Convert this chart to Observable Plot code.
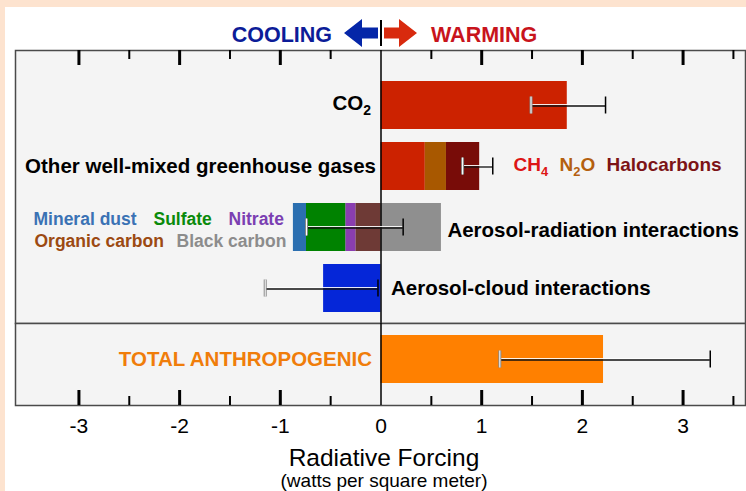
<!DOCTYPE html>
<html><head><meta charset="utf-8">
<script src="https://cdn.jsdelivr.net/npm/d3@7"></script>
<script src="https://cdn.jsdelivr.net/npm/@observablehq/plot@0.6"></script>
<style>
html,body{margin:0;padding:0;}
body{width:746px;height:491px;background:#fde3cf;position:relative;overflow:hidden;font-family:"Liberation Sans",Arial,sans-serif;}
#panel{position:absolute;left:5px;top:7px;right:0;bottom:0;background:#fff;}
.abs{position:absolute;}
</style></head><body>
<div id="panel"></div>
<svg class="abs" style="left:0;top:0" width="746" height="50" font-family="Liberation Sans, Arial, sans-serif" font-weight="bold" font-size="21.5">
  <text x="332" y="41.7" text-anchor="end" fill="#0c1c98">COOLING</text>
  <polygon fill="#0526a8" points="344,33 362,19 362,27.5 378,27.5 378,38.5 362,38.5 362,47"/>
  <line x1="381" x2="381" y1="20" y2="46" stroke="#000" stroke-width="2"/>
  <polygon fill="#d82a0e" points="417,33 399,19 399,27.5 384,27.5 384,38.5 399,38.5 399,47"/>
  <text x="431" y="41.7" fill="#c8141c">WARMING</text>
</svg>
<div id="topPlot" class="abs" style="left:0;top:49px"></div>
<div id="bottomPlot" class="abs" style="left:0;top:322px"></div>
<svg class="abs" style="left:0;top:440px" width="746" height="51" font-family="Liberation Sans, Arial, sans-serif">
  <text x="384" y="26" text-anchor="middle" font-size="24.5" fill="#000">Radiative Forcing</text>
  <text x="384" y="46.5" text-anchor="middle" font-size="19" fill="#000">(watts per square meter)</text>
</svg>
<script>
const FONT = "Liberation Sans, Arial, sans-serif";

// ---- data ----
const rows = ["CO2", "Other well-mixed greenhouse gases", "Aerosol-radiation interactions", "Aerosol-cloud interactions"];
const totalRow = ["TOTAL ANTHROPOGENIC"];

const segRow = ["CO2",
  "Other well-mixed greenhouse gases", "Other well-mixed greenhouse gases", "Other well-mixed greenhouse gases",
  "Aerosol-radiation interactions", "Aerosol-radiation interactions", "Aerosol-radiation interactions",
  "Aerosol-radiation interactions", "Aerosol-radiation interactions",
  "Aerosol-cloud interactions"];
const segName = ["CO2", "CH4", "N2O", "Halocarbons", "Black carbon", "Organic carbon", "Nitrate", "Sulfate", "Mineral dust", "Aerosol-cloud"];
const segValue = [1.85, 0.44, 0.21, 0.33, 0.60, -0.25, -0.10, -0.39, -0.13, -0.57];
const segColor = ["#cc2200", "#cc2200", "#a85800", "#780c08", "#8f8f8f", "#6e3a36", "#8a3eb0", "#008200", "#2b6fb0", "#0526d8"];

const totalValue = [2.21];
const totalColor = ["#ff8000"];

const errRow = ["CO2", "Other well-mixed greenhouse gases", "Aerosol-radiation interactions", "Aerosol-cloud interactions"];
const errLow = [1.49, 0.81, -0.74, -1.15];
const errHigh = [2.23, 1.11, 0.22, -0.03];
const totalErrLow = [1.18];
const totalErrHigh = [3.27];

const gasNames = ["CH4", "N2O", "Halocarbons"];
const gasColors = ["#dd1515", "#b4600e", "#7d1316"];
const aerosolLine1 = ["Mineral dust", "Sulfate", "Nitrate"];
const aerosolLine1Colors = ["#3a72b4", "#0a8a0a", "#7b3fb2"];
const aerosolLine2 = ["Organic carbon", "Black carbon"];
const aerosolLine2Colors = ["#9c4a12", "#8c8c8c"];

const majorTicks = [-3, -2, -1, 1, 2, 3];
const minorTicks = [-2.5, -1.5, -0.5, 0.5, 1.5, 2.5, 3.5];
const tickLabels = [-3, -2, -1, 0, 1, 2, 3];
const xDomain = [-3.63, 3.62];

// ---- tables ----
const segs = segRow.map((r, i) => ({row: r, name: segName[i], value: segValue[i], color: segColor[i]}));
const errs = errRow.map((r, i) => ({row: r, lo: errLow[i], hi: errHigh[i]}));
const totals = totalRow.map((r, i) => ({row: r, value: totalValue[i], color: totalColor[i]}));
const totalErrs = totalRow.map((r, i) => ({row: r, lo: totalErrLow[i], hi: totalErrHigh[i]}));
const bcEnd = d3.sum(segs.filter(d => d.row === rows[2] && d.value > 0), d => d.value);

function errorMarks(data) {
  return [
    Plot.ruleY(data, {y: "row", x1: "lo", x2: "hi", stroke: "#111", strokeWidth: 1.3, dy: 0.5}),
    Plot.ruleY(data, {y: "row", x1: "lo", x2: "hi", stroke: "#fff", strokeWidth: 1, dy: -1, strokeOpacity: 0.9}),
    Plot.tickX(data, {y: "row", x: "lo", stroke: "#888", strokeWidth: 3, insetTop: 15.5, insetBottom: 15.5}),
    Plot.tickX(data, {y: "row", x: "lo", stroke: "#fff", strokeWidth: 1, insetTop: 15.5, insetBottom: 15.5}),
    Plot.tickX(data, {y: "row", x: "hi", stroke: "#000", strokeWidth: 1.5, insetTop: 15.5, insetBottom: 15.5})
  ];
}

const labelStyle = {fontWeight: "bold", fontSize: 20.5, fill: "#000"};

const topPlot = Plot.plot({
  width: 746, height: 275,
  marginLeft: 15, marginRight: 1, marginTop: 1, marginBottom: 1,
  style: {background: "transparent", fontFamily: FONT, overflow: "visible"},
  x: {domain: xDomain, axis: null},
  y: {domain: rows, axis: null, paddingInner: 0.213, paddingOuter: 0.344, align: 0.738},
  color: {type: "identity"},
  marks: [
    Plot.frame({fill: "#f4f4f4", stroke: "#4a4a4a", strokeWidth: 1.5}),
    Plot.ruleX(majorTicks, {x: d => d, insetBottom: 273 - 15, stroke: "#000", strokeWidth: 3}),
    Plot.ruleX(minorTicks, {x: d => d, insetBottom: 273 - 9, stroke: "#000", strokeWidth: 2}),
    Plot.barX(segs, {x: "value", y: "row", fill: "color"}),
    Plot.ruleX([0], {stroke: "#000", strokeWidth: 1.5}),
    ...errorMarks(errs),
    Plot.text([rows[0]], {x: () => 0, y: d => d, text: d => d, textAnchor: "end", dx: -10, dy: -2, ...labelStyle}),
    Plot.text([rows[1]], {x: () => 0, y: d => d, text: d => d, textAnchor: "end", dx: -5, ...labelStyle}),
    Plot.text([rows[2]], {x: () => bcEnd, y: d => d, text: d => d, textAnchor: "start", dx: 6, dy: 3, ...labelStyle}),
    Plot.text([rows[3]], {x: () => 0, y: d => d, text: d => d, textAnchor: "start", dx: 10, ...labelStyle}),
    ...gasNames.map((g, i) => Plot.text([g], {frameAnchor: "left", y: () => rows[1], text: d => d, textAnchor: "start",
      dx: [498, 544, 591][i], dy: -2, fill: gasColors[i], fontWeight: "bold", fontSize: 19})),
    ...aerosolLine1.map((g, i) => Plot.text([g], {frameAnchor: "left", y: () => rows[2], text: d => d, textAnchor: "start",
      dx: [18, 138, 213][i], dy: -8, fill: aerosolLine1Colors[i], fontWeight: "bold", fontSize: 17.5})),
    ...aerosolLine2.map((g, i) => Plot.text([g], {frameAnchor: "left", y: () => rows[2], text: d => d, textAnchor: "start",
      dx: [19, 161][i], dy: 14, fill: aerosolLine2Colors[i], fontWeight: "bold", fontSize: 17.5}))
  ]
});

const bottomPlot = Plot.plot({
  width: 746, height: 123,
  marginLeft: 15, marginRight: 1, marginTop: 1, marginBottom: 40,
  style: {background: "transparent", fontFamily: FONT, overflow: "visible"},
  x: {domain: xDomain, axis: null},
  y: {domain: totalRow, axis: null, paddingInner: 0.2, paddingOuter: 0.2833, align: 0.353},
  color: {type: "identity"},
  marks: [
    Plot.frame({fill: "#f4f4f4", stroke: "#4a4a4a", strokeWidth: 1.5}),
    Plot.ruleX(majorTicks, {x: d => d, insetTop: 82 - 15, stroke: "#000", strokeWidth: 3}),
    Plot.ruleX(minorTicks, {x: d => d, insetTop: 82 - 9, stroke: "#000", strokeWidth: 2}),
    Plot.barX(totals, {x: "value", y: "row", fill: "color"}),
    Plot.ruleX([0], {stroke: "#000", strokeWidth: 1.5}),
    ...errorMarks(totalErrs),
    Plot.text(totalRow, {x: () => 0, y: d => d, text: d => d, textAnchor: "end", dx: -9,
      fontWeight: "bold", fontSize: 20.5, fill: "#f07d0a"}),
    Plot.axisX(tickLabels, {anchor: "bottom", tickSize: 0, tickPadding: 13, fontSize: 21, tickFormat: d => String(d), label: null, fill: "#000"})
  ]
});

function subscriptify(svg, formulas) {
  svg.querySelectorAll("text").forEach(t => {
    const s = t.textContent;
    if (!formulas.includes(s)) return;
    while (t.firstChild) t.removeChild(t.firstChild);
    let shifted = false;
    s.match(/\d+|\D+/g).forEach(p => {
      const ts = document.createElementNS("http://www.w3.org/2000/svg", "tspan");
      ts.textContent = p;
      if (/\d/.test(p)) { ts.setAttribute("font-size", "0.68em"); ts.setAttribute("dy", "5"); shifted = true; }
      else if (shifted) { ts.setAttribute("dy", "-5"); shifted = false; }
      t.appendChild(ts);
    });
  });
}
subscriptify(topPlot, ["CO2", "CH4", "N2O"]);

document.getElementById("topPlot").appendChild(topPlot);
document.getElementById("bottomPlot").appendChild(bottomPlot);
</script>
</body></html>
